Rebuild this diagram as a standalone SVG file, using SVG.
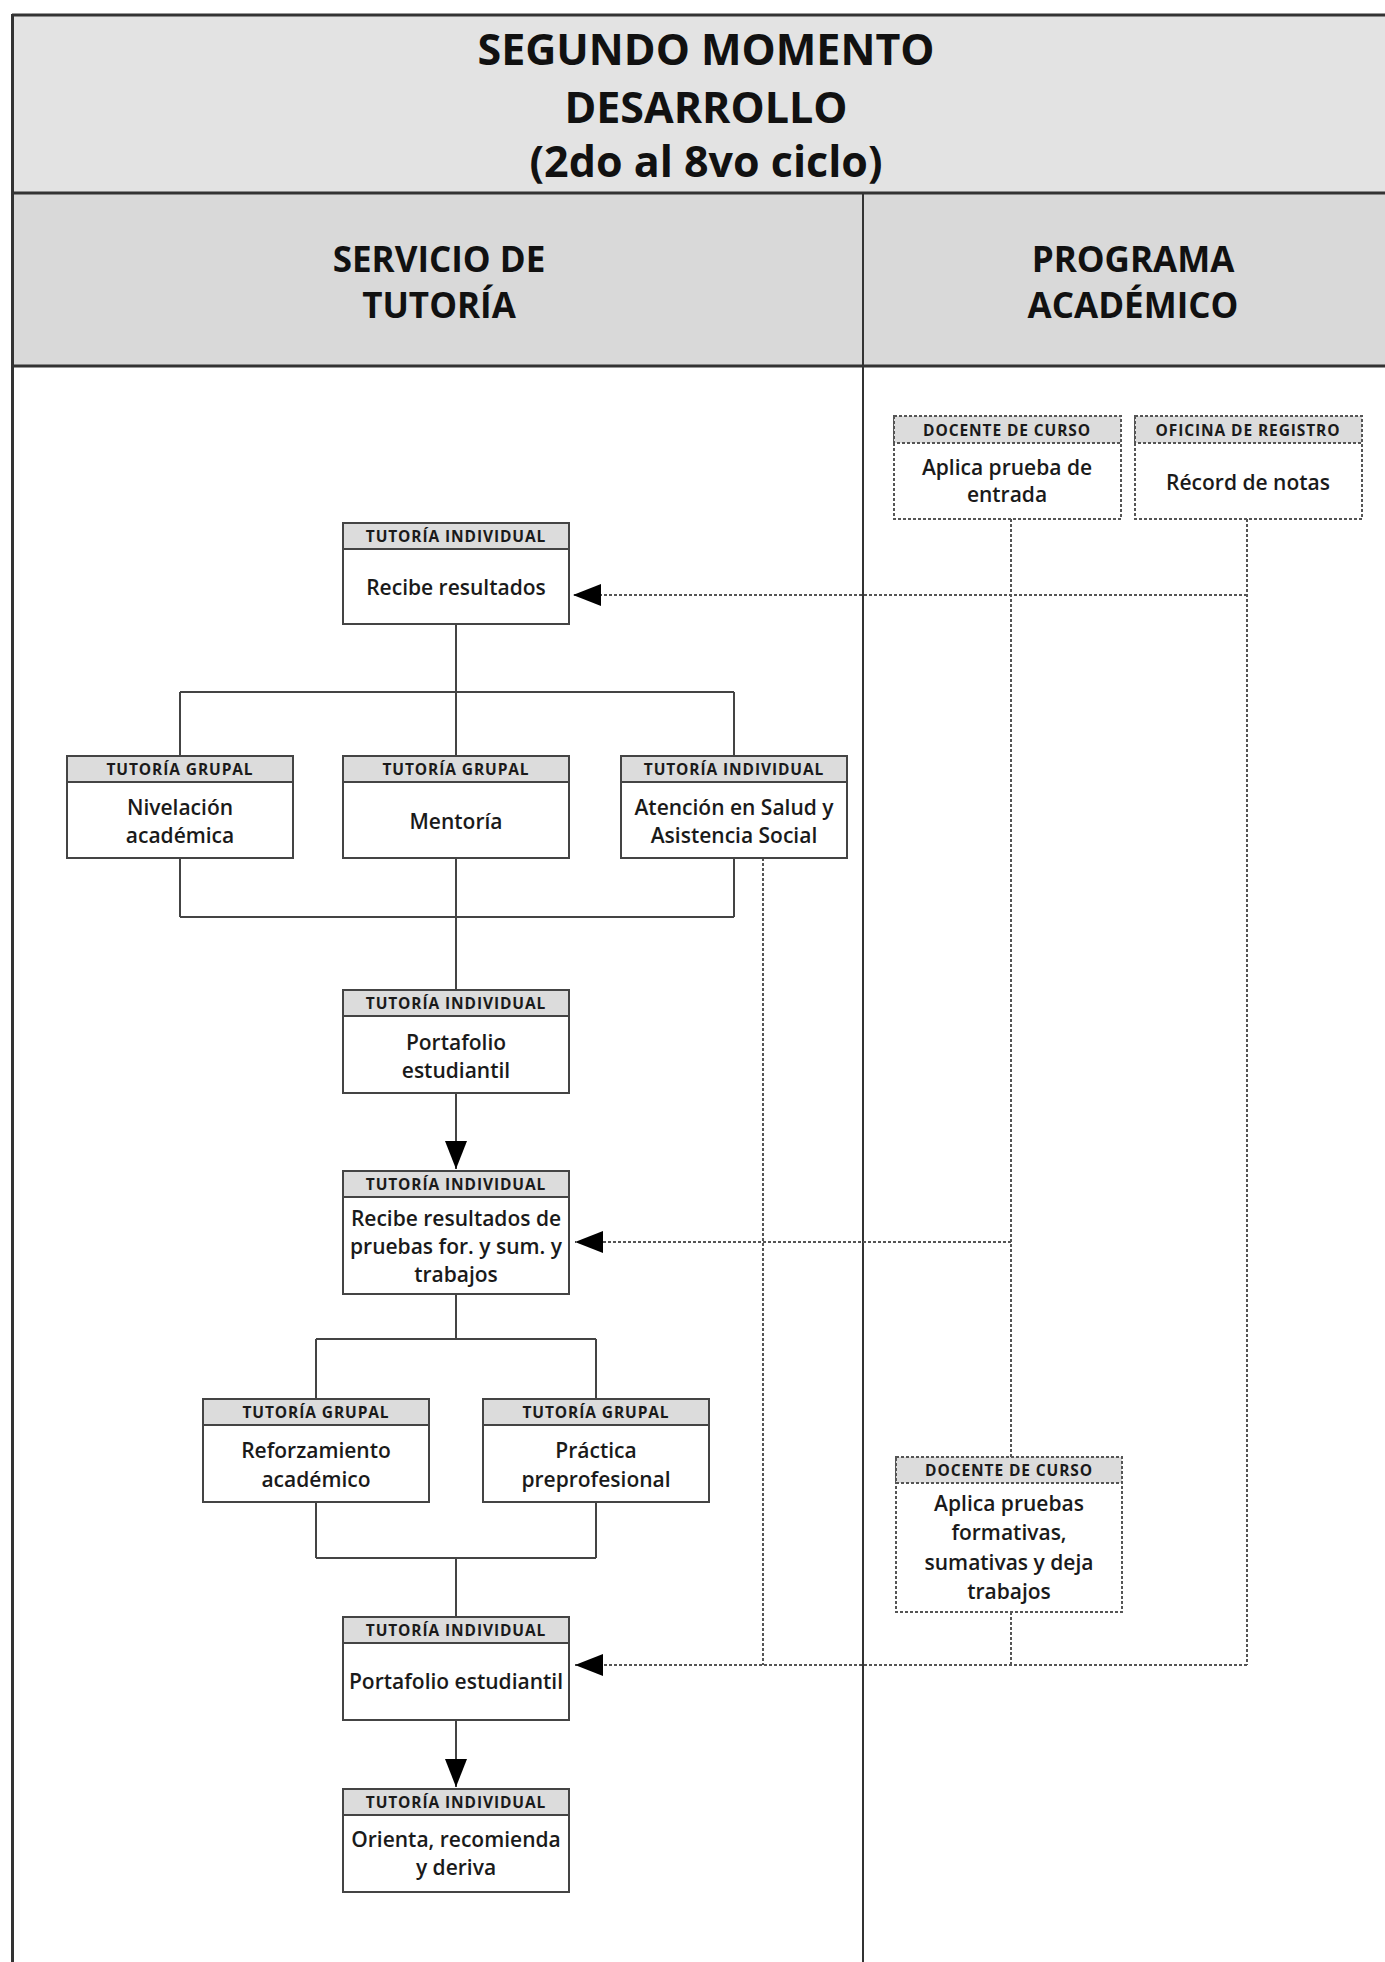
<svg xmlns="http://www.w3.org/2000/svg" width="1385" height="1962" viewBox="0 0 1385 1962">
<defs>
<style>
.frame{stroke:#333;stroke-width:3;fill:none}
.div{stroke:#333;stroke-width:2;fill:none}
.title{font-family:"Open Sans","Liberation Sans",sans-serif;font-weight:700;font-size:43px;fill:#111;text-anchor:middle}
.lane{font-family:"Open Sans","Liberation Sans",sans-serif;font-weight:700;font-size:35px;fill:#111;text-anchor:middle}
.box{fill:#fff;stroke:#444;stroke-width:2}
.hd{fill:#dcdcdc;stroke:#444;stroke-width:2}
.dbox{fill:#fff;stroke:#555;stroke-width:2;stroke-dasharray:3 2}
.dhd{fill:#dcdcdc;stroke:#555;stroke-width:2;stroke-dasharray:3 2}
.ht{font-family:"Open Sans","Liberation Sans",sans-serif;font-weight:700;font-size:15.5px;letter-spacing:0.9px;fill:#1a1a1a;text-anchor:middle}
.bt{font-family:"Open Sans","Liberation Sans",sans-serif;font-weight:600;font-size:21px;fill:#1a1a1a;text-anchor:middle}
.sol{stroke:#444;stroke-width:2;fill:none}
.dot{stroke:#555;stroke-width:2;fill:none;stroke-dasharray:3 2}
</style>
<marker id="ah" viewBox="0 0 28 22" refX="28" refY="11" markerWidth="28" markerHeight="22" markerUnits="userSpaceOnUse" orient="auto">
<path d="M0,0 L28,11 L0,22 z" fill="#000"/>
</marker>
</defs>
<rect x="0" y="0" width="1385" height="1962" fill="#fff"/>
<g id="frame">
<rect x="12" y="15" width="1380" height="178" fill="#e3e3e3"/>
<rect x="12" y="193" width="1380" height="173" fill="#d9d9d9"/>
<line class="frame" x1="12" y1="15" x2="1385" y2="15"/>
<line class="frame" x1="12.5" y1="14" x2="12.5" y2="1962"/>
<line class="frame" x1="12" y1="193" x2="1385" y2="193"/>
<line class="frame" x1="12" y1="366" x2="1385" y2="366"/>
<line class="div" x1="863" y1="193" x2="863" y2="1962"/>
<text class="title" x="706" y="65">SEGUNDO MOMENTO</text>
<text class="title" x="706" y="123">DESARROLLO</text>
<text class="title" x="706" y="177">(2do al 8vo ciclo)</text>
<text class="lane" x="439" y="272">SERVICIO DE</text>
<text class="lane" x="439" y="318">TUTORÍA</text>
<text class="lane" x="1133" y="272">PROGRAMA</text>
<text class="lane" x="1133" y="318">ACADÉMICO</text>
</g>
<g id="connectors">
<path class="sol" d="M456,624 V692 M180,692 H734 M180,692 V756 M456,692 V756 M734,692 V756"/>
<path class="sol" d="M180,858 V917 M734,858 V917 M180,917 H734 M456,858 V990"/>
<path class="sol" d="M456,1093 V1169" marker-end="url(#ah)"/>
<path class="sol" d="M456,1294 V1339 M316,1339 H596 M316,1339 V1399 M596,1339 V1399"/>
<path class="sol" d="M316,1502 V1558 M596,1502 V1558 M316,1558 H596 M456,1558 V1617"/>
<path class="sol" d="M456,1720 V1787" marker-end="url(#ah)"/>
<path class="dot" d="M1247,519 V1665 M1011,519 V1457 M1011,1612 V1665 M763,858 V1665"/>
<path class="dot" d="M1247,595 H573" marker-end="url(#ah)"/>
<path class="dot" d="M1011,1242 H575" marker-end="url(#ah)"/>
<path class="dot" d="M1247,1665 H575" marker-end="url(#ah)"/>
</g>
<g id="n-recibe">
<rect class="box" x="343" y="523" width="226" height="101"/>
<rect class="hd" x="343" y="523" width="226" height="26"/>
<text class="ht" x="456" y="542">TUTORÍA INDIVIDUAL</text>
<text class="bt" x="456" y="595">Recibe resultados</text>
</g>
<g id="n-nivelacion">
<rect class="box" x="67" y="756" width="226" height="102"/>
<rect class="hd" x="67" y="756" width="226" height="26"/>
<text class="ht" x="180" y="775">TUTORÍA GRUPAL</text>
<text class="bt" x="180" y="815">Nivelación</text>
<text class="bt" x="180" y="843">académica</text>
</g>
<g id="n-mentoria">
<rect class="box" x="343" y="756" width="226" height="102"/>
<rect class="hd" x="343" y="756" width="226" height="26"/>
<text class="ht" x="456" y="775">TUTORÍA GRUPAL</text>
<text class="bt" x="456" y="829">Mentoría</text>
</g>
<g id="n-atencion">
<rect class="box" x="621" y="756" width="226" height="102"/>
<rect class="hd" x="621" y="756" width="226" height="26"/>
<text class="ht" x="734" y="775">TUTORÍA INDIVIDUAL</text>
<text class="bt" x="734" y="815">Atención en Salud y</text>
<text class="bt" x="734" y="843">Asistencia Social</text>
</g>
<g id="n-portafolio1">
<rect class="box" x="343" y="990" width="226" height="103"/>
<rect class="hd" x="343" y="990" width="226" height="26"/>
<text class="ht" x="456" y="1009">TUTORÍA INDIVIDUAL</text>
<text class="bt" x="456" y="1050">Portafolio</text>
<text class="bt" x="456" y="1078">estudiantil</text>
</g>
<g id="n-recibe2">
<rect class="box" x="343" y="1171" width="226" height="123"/>
<rect class="hd" x="343" y="1171" width="226" height="26"/>
<text class="ht" x="456" y="1190">TUTORÍA INDIVIDUAL</text>
<text class="bt" x="456" y="1226">Recibe resultados de</text>
<text class="bt" x="456" y="1254">pruebas for. y sum. y</text>
<text class="bt" x="456" y="1282">trabajos</text>
</g>
<g id="n-reforzamiento">
<rect class="box" x="203" y="1399" width="226" height="103"/>
<rect class="hd" x="203" y="1399" width="226" height="26"/>
<text class="ht" x="316" y="1418">TUTORÍA GRUPAL</text>
<text class="bt" x="316" y="1458">Reforzamiento</text>
<text class="bt" x="316" y="1487">académico</text>
</g>
<g id="n-practica">
<rect class="box" x="483" y="1399" width="226" height="103"/>
<rect class="hd" x="483" y="1399" width="226" height="26"/>
<text class="ht" x="596" y="1418">TUTORÍA GRUPAL</text>
<text class="bt" x="596" y="1458">Práctica</text>
<text class="bt" x="596" y="1487">preprofesional</text>
</g>
<g id="n-portafolio2">
<rect class="box" x="343" y="1617" width="226" height="103"/>
<rect class="hd" x="343" y="1617" width="226" height="26"/>
<text class="ht" x="456" y="1636">TUTORÍA INDIVIDUAL</text>
<text class="bt" x="456" y="1689">Portafolio estudiantil</text>
</g>
<g id="n-orienta">
<rect class="box" x="343" y="1789" width="226" height="103"/>
<rect class="hd" x="343" y="1789" width="226" height="26"/>
<text class="ht" x="456" y="1808">TUTORÍA INDIVIDUAL</text>
<text class="bt" x="456" y="1847">Orienta, recomienda</text>
<text class="bt" x="456" y="1875">y deriva</text>
</g>
<g id="n-docente1">
<rect class="dbox" x="894" y="416" width="227" height="103"/>
<rect class="dhd" x="894" y="416" width="227" height="27"/>
<text class="ht" x="1007" y="436">DOCENTE DE CURSO</text>
<text class="bt" x="1007" y="475">Aplica prueba de</text>
<text class="bt" x="1007" y="502">entrada</text>
</g>
<g id="n-oficina">
<rect class="dbox" x="1135" y="416" width="227" height="103"/>
<rect class="dhd" x="1135" y="416" width="227" height="27"/>
<text class="ht" x="1248" y="436">OFICINA DE REGISTRO</text>
<text class="bt" x="1248" y="490">Récord de notas</text>
</g>
<g id="n-docente2">
<rect class="dbox" x="896" y="1457" width="226" height="155"/>
<rect class="dhd" x="896" y="1457" width="226" height="26"/>
<text class="ht" x="1009" y="1476">DOCENTE DE CURSO</text>
<text class="bt" x="1009" y="1511">Aplica pruebas</text>
<text class="bt" x="1009" y="1540">formativas,</text>
<text class="bt" x="1009" y="1570">sumativas y deja</text>
<text class="bt" x="1009" y="1599">trabajos</text>
</g>
</svg>
